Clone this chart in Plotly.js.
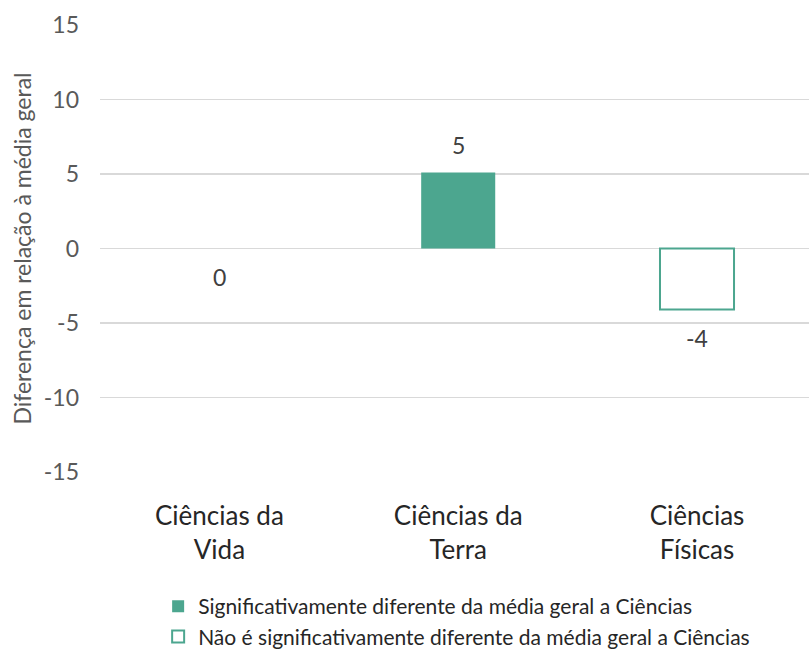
<!DOCTYPE html>
<html>
<head>
<meta charset="utf-8">
<script src="https://cdn.plot.ly/plotly-3.0.1.min.js"></script>
<style>html,body{margin:0;padding:0;background:#fff;}#chart{width:809px;height:649px;}</style>
</head>
<body>
<div id="chart"></div>
<script>
const categories = ["Ciências da<br>Vida", "Ciências da<br>Terra", "Ciências<br>Físicas"];
const values = [0, 5.1, -4.1];
const valueLabels = ["0", "5", "-4"];
const significant = [false, true, false];
const seriesNames = [
  "Significativamente diferente da média geral a Ciências",
  "Não é significativamente diferente da média geral a Ciências"
];
const yTicks = [-15, -10, -5, 0, 5, 10, 15];
const yTitle = "Diferença em relação à média geral";

const green = "#4CA68F";
const sigY = values.map((v, i) => significant[i] ? v : null);
// a zero-height bar draws nothing visible in the reference
const nonY = values.map((v, i) => (!significant[i] && v !== 0) ? v : null);

const traces = [
  {type: "bar", x: categories, y: sigY, name: seriesNames[0], width: 0.31,
   marker: {color: green, line: {width: 0}}, hoverinfo: "skip"},
  {type: "bar", x: categories, y: nonY, name: seriesNames[1], width: 0.31,
   marker: {color: "#ffffff", line: {color: green, width: 2}}, hoverinfo: "skip"}
];

const annotations = values.map((v, i) => ({
  x: categories[i], y: v, xref: "x", yref: "y",
  text: valueLabels[i], showarrow: false,
  yanchor: v > 0 ? "bottom" : "top", yshift: v > 0 ? 12 : -12,
  font: {family: "Lato, sans-serif", size: 23, color: "#404040"}
}));

const layout = {
  width: 809, height: 649,
  margin: {l: 100, r: 0, t: 25, b: 177, autoexpand: false},
  paper_bgcolor: "#fff", plot_bgcolor: "#fff",
  barmode: "overlay",
  showlegend: true,
  legend: {orientation: "v", x: 0.082, xanchor: "left", y: -0.255, yanchor: "top",
           font: {family: "Lato, sans-serif", size: 21, color: "#262626"},
           tracegroupgap: 0, itemwidth: 30},
  xaxis: {type: "category", range: [-0.5, 2.469], showgrid: false, zeroline: false,
          showline: false, ticks: "", ticklabelstandoff: 26,
          tickfont: {family: "Lato, sans-serif", size: 26, color: "#262626"}},
  yaxis: {range: [-15, 15], tickvals: yTicks, ticktext: yTicks.map(String),
          showgrid: true, gridcolor: "#D9D9D9", gridwidth: 1.5, zeroline: false,
          showline: false, ticks: "", ticklabelstandoff: 20,
          tickfont: {family: "Lato, sans-serif", size: 23, color: "#595959"},
          title: {text: yTitle, standoff: 5,
                  font: {family: "Lato, sans-serif", size: 23, color: "#595959"}}},
  annotations: annotations
};

Plotly.newPlot("chart", traces, layout, {displayModeBar: false, staticPlot: true});
</script>
</body>
</html>
